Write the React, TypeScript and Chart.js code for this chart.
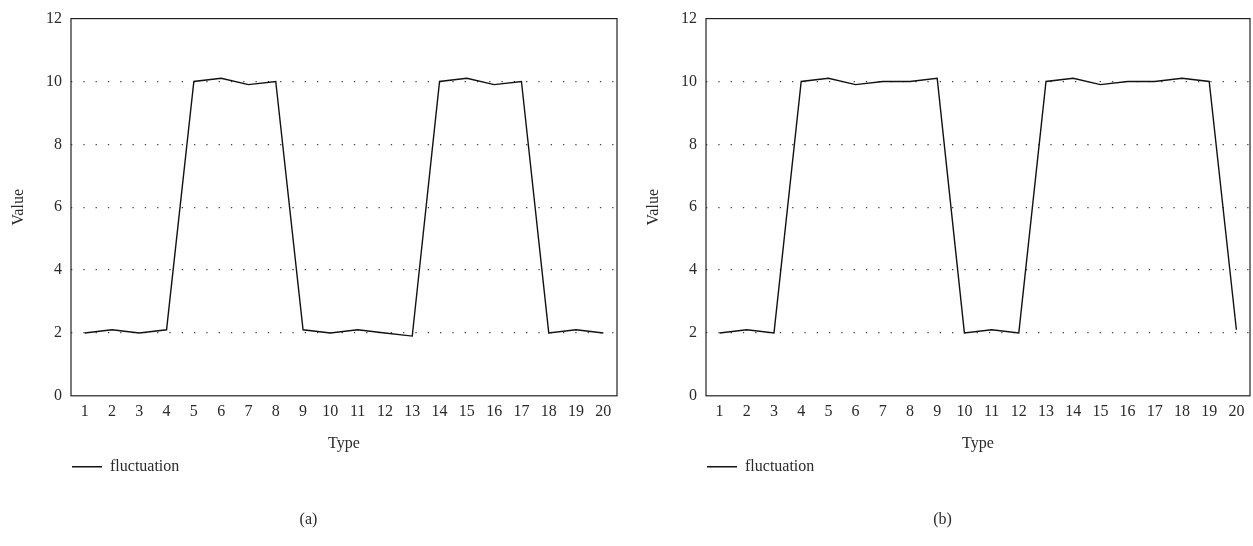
import React, { useEffect, useRef } from "react";
import { Chart, registerables } from "chart.js";

Chart.register(...registerables);

const categories = ["1","2","3","4","5","6","7","8","9","10","11","12","13","14","15","16","17","18","19","20"];
const fluctuationA = [2, 2.1, 2, 2.1, 10, 10.1, 9.9, 10, 2.1, 2, 2.1, 2, 1.9, 10, 10.1, 9.9, 10, 2, 2.1, 2];
const fluctuationB = [2, 2.1, 2, 10, 10.1, 9.9, 10, 10, 10.1, 2, 2.1, 2, 10, 10.1, 9.9, 10, 10, 10.1, 10, 2.1];
const yTicks = [0, 2, 4, 6, 8, 10, 12];
const seriesLabel = "fluctuation";
const captions = ["(a)", "(b)"];

const FONT = "'Liberation Serif', 'DejaVu Serif', serif";
const TEXT = "#2a2a2a";

const frame = {
  id: "frame",
  afterDatasetsDraw(chart: any) {
    const { ctx, chartArea } = chart;
    ctx.save();
    ctx.strokeStyle = "#222";
    ctx.lineWidth = 1.2;
    ctx.strokeRect(chartArea.left, chartArea.top, chartArea.right - chartArea.left, chartArea.bottom - chartArea.top);
    ctx.restore();
  },
};

function Panel({ data, caption, width, padRight }: { data: number[]; caption: string; width: number; padRight: number }) {
  const ref = useRef<HTMLCanvasElement>(null);
  useEffect(() => {
    const chart = new Chart(ref.current!, {
      type: "line",
      data: {
        labels: categories,
        datasets: [
          {
            label: seriesLabel,
            data,
            borderColor: "#111",
            backgroundColor: "#111",
            borderWidth: 1.4,
            pointRadius: 0,
            tension: 0,
          },
        ],
      },
      options: {
        animation: false,
        responsive: false,
        layout: { autoPadding: false, padding: { top: 16, left: 0, right: padRight, bottom: 0 } },
        plugins: {
          tooltip: { enabled: false },
          legend: {
            position: "bottom",
            align: "start",
            fullSize: false,
            labels: {
              usePointStyle: true,
              pointStyle: "line",
              pointStyleWidth: 30,
              padding: 1,
              color: TEXT,
              font: { family: FONT, size: 16 },
            },
          },
          title: {
            display: true,
            position: "bottom",
            text: caption,
            color: TEXT,
            font: { family: FONT, size: 16, weight: "normal" },
            padding: { top: 25, bottom: 17 },
          },
        },
        scales: {
          x: {
            offset: true,
            grid: { display: false, drawTicks: false },
            border: { display: false },
            ticks: { color: TEXT, font: { family: FONT, size: 16 }, autoSkip: false, maxRotation: 0, padding: 6 },
            title: { display: true, text: "Type", color: TEXT, font: { family: FONT, size: 16 }, padding: { top: 0, bottom: 4 } },
            afterFit: (s: any) => { s.height = 62; },
          },
          y: {
            min: 0,
            max: 12,
            afterBuildTicks: (s: any) => { s.ticks = yTicks.map((v) => ({ value: v })); },
            grid: {
              color: (c: any) => (c.tick && (c.tick.value === 0 || c.tick.value === 12) ? "rgba(0,0,0,0)" : "#444"),
              lineWidth: 1.3,
              drawTicks: false,
            },
            border: { display: false, dash: [1.3, 11] },
            ticks: { color: TEXT, font: { family: FONT, size: 16 }, padding: 9 },
            title: { display: true, text: "Value", color: TEXT, font: { family: FONT, size: 16 }, padding: { top: 9, bottom: 0 } },
            afterFit: (s: any) => { s.width = 71; },
          },
        },
      },
      plugins: [frame],
    });
    return () => chart.destroy();
  }, []);
  return <canvas ref={ref} width={width} height={546} style={{ display: "block" }} />;
}

export default function App() {
  return (
    <div style={{ position: "absolute", left: 0, top: 0, width: 1253, height: 546, background: "#fff" }}>
      <div style={{ position: "absolute", left: 0, top: 0 }}>
        <Panel data={fluctuationA} caption={captions[0]} width={626} padRight={9} />
      </div>
      <div style={{ position: "absolute", left: 635, top: 0 }}>
        <Panel data={fluctuationB} caption={captions[1]} width={618} padRight={3} />
      </div>
    </div>
  );
}
